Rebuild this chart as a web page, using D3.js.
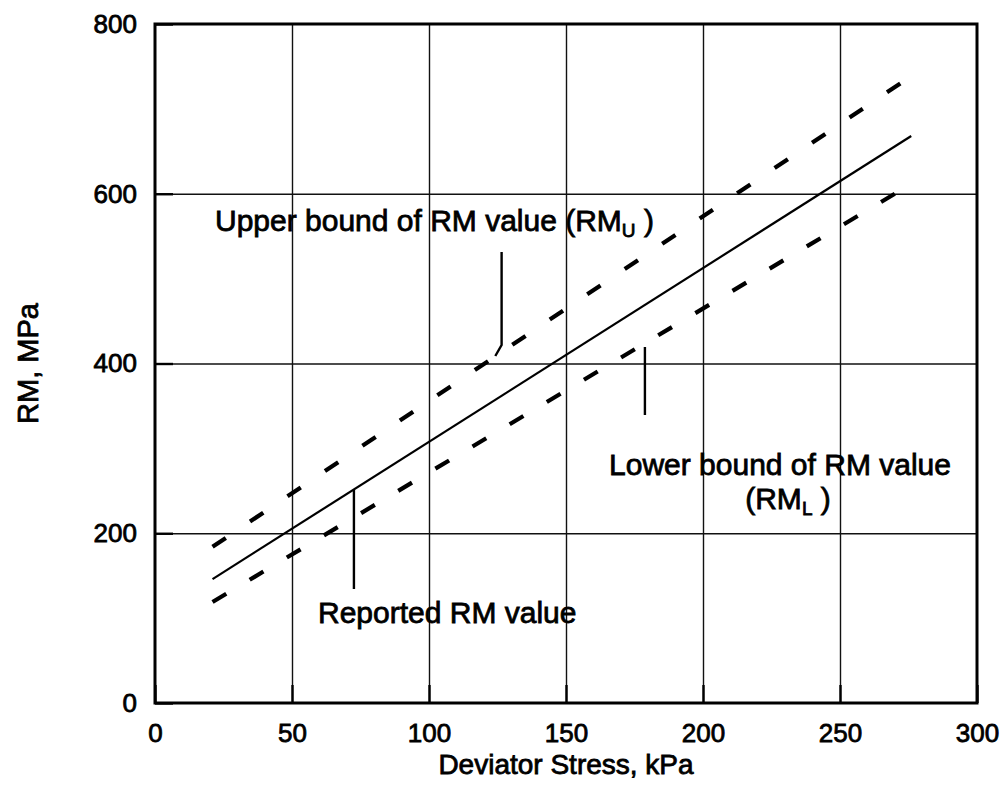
<!DOCTYPE html>
<html>
<head>
<meta charset="utf-8">
<script src="https://cdn.jsdelivr.net/npm/d3@7"></script>
<style>
  html, body { margin: 0; padding: 0; background: #fff; }
  svg { display: block; }
  text { font-family: "Liberation Sans", Arial, Helvetica, sans-serif; fill: #000; stroke: #000; stroke-width: 0.8px; }
</style>
</head>
<body>
<svg id="chart" width="1006" height="789"></svg>
<script>
// Resilient modulus (RM) versus deviator stress, with upper / lower bounds
const xTicks = [0, 50, 100, 150, 200, 250, 300];
const yTicks = [0, 200, 400, 600, 800];

// Reported RM value (solid line)
const reportedStress = [21, 276];
const reportedRM = [146, 668];
// Upper bound RM_U (dashed)
const upperStress = [21, 272];
const upperRM = [184, 730];
// Lower bound RM_L (dashed)
const lowerStress = [21, 270];
const lowerRM = [119, 600];

const svg = d3.select("#chart");
const margin = { left: 155, top: 24, right: 1006 - 977, bottom: 789 - 703 };
const W = 1006 - margin.left - margin.right;
const H = 789 - margin.top - margin.bottom;

const x = d3.scaleLinear().domain([0, 300]).range([0, W]);
const y = d3.scaleLinear().domain([0, 800]).range([H, 0]);

const g = svg.append("g").attr("transform", `translate(${margin.left},${margin.top})`);

// grid lines
g.append("g")
  .attr("transform", `translate(0,${H})`)
  .call(d3.axisBottom(x).tickValues(xTicks.slice(1, -1)).tickSize(-H).tickFormat(""))
  .call(s => s.select(".domain").remove())
  .call(s => s.selectAll("line").attr("stroke", "#111").attr("stroke-width", 1.4));
g.append("g")
  .call(d3.axisLeft(y).tickValues(yTicks.slice(1, -1)).tickSize(-W).tickFormat(""))
  .call(s => s.select(".domain").remove())
  .call(s => s.selectAll("line").attr("stroke", "#111").attr("stroke-width", 1.6));

// axes with inward ticks and labels
const xAxis = g.append("g")
  .attr("transform", `translate(0,${H})`)
  .call(d3.axisBottom(x).tickValues(xTicks).tickSize(-18).tickPadding(21).tickFormat(d3.format("d")));
const yAxis = g.append("g")
  .call(d3.axisLeft(y).tickValues(yTicks).tickSize(-18).tickPadding(18).tickFormat(d3.format("d")));
[xAxis, yAxis].forEach(a => {
  a.select(".domain").remove();
  a.selectAll("line").attr("stroke", "#000").attr("stroke-width", 2.4);
  a.selectAll("text").style("font-size", "26px")
    .style("font-family", "'Liberation Sans', Arial, sans-serif").attr("fill", "#000");
});

// plot frame
g.append("rect")
  .attr("x", 0).attr("y", 0).attr("width", W).attr("height", H)
  .attr("fill", "none").attr("stroke", "#000").attr("stroke-width", 3);

// lines
const line = d3.line().x(d => x(d[0])).y(d => y(d[1]));
const pairs = (xs, ys) => xs.map((v, i) => [v, ys[i]]);

g.append("path").datum(pairs(reportedStress, reportedRM))
  .attr("d", line).attr("fill", "none").attr("stroke", "#000").attr("stroke-width", 2.2);

// dashed bounds: the dash period is stretched slightly so both ends finish on a dash
const DASH = 16;
[pairs(upperStress, upperRM), pairs(lowerStress, lowerRM)].forEach(d => {
  const p = g.append("path").datum(d)
    .attr("d", line).attr("fill", "none").attr("stroke", "#000")
    .attr("stroke-width", 4.2);
  const L = p.node().getTotalLength();
  const n = Math.max(1, Math.round((L - DASH) / 44));
  const period = (L - DASH) / n;
  p.attr("stroke-dasharray", `${DASH} ${period - DASH}`);
});

// annotations
const ann = svg.append("g").style("font-size", "30px");

const px = v => margin.left + x(v);
const leader = pts => svg.append("path")
  .attr("d", d3.line()(pts)).attr("fill", "none").attr("stroke", "#000").attr("stroke-width", 2.4);

// upper bound leader: vertical then a short kink onto the dashed line
leader([[px(126.5), 252], [px(126.5), 345], [px(124.2), 356]]);
// lower bound leader
leader([[px(178.8), 347], [px(178.8), 415]]);
// reported leader
leader([[px(72.6), 490], [px(72.6), 589]]);

const t1 = ann.append("text").attr("x", 215).attr("y", 231);
t1.append("tspan").text("Upper bound of RM value (RM");
t1.append("tspan").attr("dy", 6).style("font-size", "19px").text("U");
t1.append("tspan").attr("dy", -6).text(" )");

const t2 = ann.append("text").attr("x", 780).attr("y", 475).attr("text-anchor", "middle");
t2.text("Lower bound of RM value");
const t3 = ann.append("text").attr("x", 788).attr("y", 509).attr("text-anchor", "middle");
t3.append("tspan").text("(RM");
t3.append("tspan").attr("dy", 6).style("font-size", "19px").text("L");
t3.append("tspan").attr("dy", -6).text(" )");

ann.append("text").attr("x", 318).attr("y", 623).text("Reported RM value");

// axis titles
svg.append("text")
  .attr("x", margin.left + W / 2).attr("y", 774)
  .attr("text-anchor", "middle").style("font-size", "28px")
  .text("Deviator Stress, kPa");
svg.append("text")
  .attr("transform", `translate(38,${margin.top + H / 2}) rotate(-90)`)
  .attr("text-anchor", "middle").style("font-size", "29px")
  .text("RM, MPa");
</script>
</body>
</html>
